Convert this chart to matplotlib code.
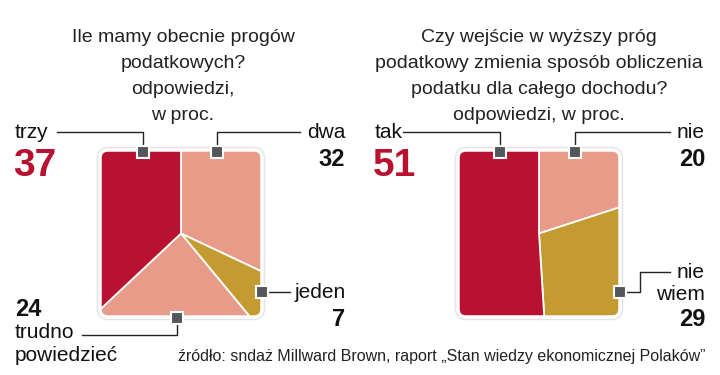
import matplotlib
matplotlib.use("Agg")
import matplotlib.pyplot as plt
from matplotlib.patches import FancyBboxPatch

# data
left_labels = ["dwa", "jeden", "trudno\npowiedzieć", "trzy"]
left_values = [32, 7, 24, 37]
right_labels = ["nie", "nie\nwiem", "tak"]
right_values = [20, 29, 51]

left_title = "Ile mamy obecnie progów\npodatkowych?\nodpowiedzi,\nw proc."
right_title = ("Czy wejście w wyższy próg\npodatkowy zmienia sposób obliczenia\n"
               "podatku dla całego dochodu?\nodpowiedzi, w proc.")
source = "źródło: sndaż Millward Brown, raport „Stan wiedzy ekonomicznej Polaków”"

RED = "#B81230"
SALMON = "#E89B88"
GOLD = "#C49B30"
MARK = "#53575C"
left_colors = [SALMON, GOLD, SALMON, RED]
right_colors = [SALMON, GOLD, RED]

plt.rcParams["font.family"] = ["Liberation Sans", "DejaVu Sans"]

H = 375
fig = plt.figure(figsize=(7.2, 3.75), dpi=100)
ax = fig.add_axes([0, 0, 1, 1])


def Y(y):
    return H - y


def square_pie(cx, cy, values, colors):
    w, h = 162, 167
    x0, y0 = cx - w / 2, Y(cy) - h / 2
    shadow = FancyBboxPatch((x0 - 1.5, y0 - 1.5), w + 3, h + 3,
                            boxstyle="round,pad=0,rounding_size=10",
                            fc="#d0d0d0", ec="#e4e4e4", lw=2.5, zorder=1)
    ax.add_patch(shadow)
    clip = FancyBboxPatch((x0, y0), w, h, boxstyle="round,pad=0,rounding_size=8",
                          fc="none", ec="white", lw=2.5, zorder=4)
    ax.add_patch(clip)
    wedges, _ = ax.pie(values, colors=colors, startangle=90, counterclock=False,
                       radius=200, center=(cx, Y(cy)), frame=True,
                       wedgeprops=dict(edgecolor="white", linewidth=1.3))
    for wd in wedges:
        wd.set_clip_on(True)
        wd.set_clip_path(clip)
        wd.set_zorder(2)


def marker(x, y):
    ax.plot([x], [Y(y)], marker="s", ms=9, mfc=MARK, mec="white", mew=1.5, zorder=6)


def leader(xs, ys):
    ax.plot(xs, [Y(v) for v in ys], color="#222222", lw=1, zorder=5)


square_pie(181, 233.5, left_values, left_colors)
square_pie(539, 233.5, right_values, right_colors)

# titles
title_kw = dict(ha="center", va="top", fontsize=14, color="#222222", linespacing=1.68)
ax.text(183, Y(29.5), left_title, **title_kw)
ax.text(539, Y(29.5), right_title, **title_kw)

lab = dict(fontsize=15, color="#111111", va="center")
num = dict(fontsize=17, color="#111111", weight="bold", va="center")
big = dict(fontsize=28, color=RED, weight="bold", va="center", ha="left")

# left chart
leader([57, 143, 143], [132, 132, 152])
marker(143, 152)
ax.text(15, Y(132), left_labels[3], ha="left", **lab)
ax.text(13, Y(166), str(left_values[3]), **big)

leader([300, 217, 217], [132, 132, 152])
marker(217, 152)
ax.text(345, Y(132), left_labels[0], ha="right", **lab)
ax.text(345, Y(159), str(left_values[0]), ha="right", **num)

leader([262, 290], [292, 292])
marker(262, 292)
ax.text(295, Y(293), left_labels[1], ha="left", **lab)
ax.text(345, Y(319), str(left_values[1]), ha="right", **num)

leader([82, 177, 177], [335, 335, 318])
marker(177, 318)
ax.text(15, Y(344), left_labels[2], ha="left", fontsize=15, color="#111111",
        va="center", linespacing=1.3)
ax.text(15, Y(310), str(left_values[2]), ha="left", **num)

# right chart
leader([403, 500, 500], [132, 132, 152])
marker(500, 152)
ax.text(375, Y(132), right_labels[2], ha="left", **lab)
ax.text(373, Y(166), str(right_values[2]), **big)

leader([670, 575, 575], [132, 132, 152])
marker(575, 152)
ax.text(705, Y(132), right_labels[0], ha="right", **lab)
ax.text(705, Y(159), str(right_values[0]), ha="right", **num)

leader([620, 640, 640, 670], [292, 292, 272, 272])
marker(620, 292)
ax.text(705, Y(283), right_labels[1], ha="right", fontsize=15, color="#111111",
        va="center", linespacing=1.2, multialignment="right")
ax.text(705, Y(319), str(right_values[1]), ha="right", **num)

ax.text(706, Y(356), source, ha="right", va="center", fontsize=11.5, color="#222222")

ax.set_xlim(0, 720)
ax.set_ylim(0, H)
ax.set_aspect("equal")
ax.axis("off")
fig.savefig("out.png", dpi=100, facecolor="white")
